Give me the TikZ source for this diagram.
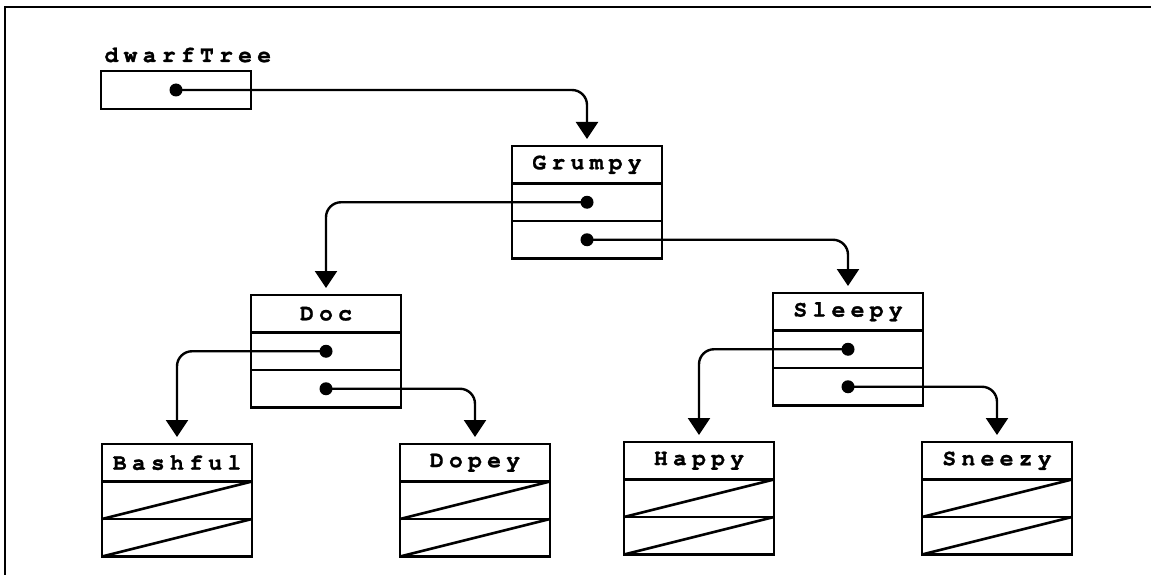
\documentclass[tikz,border=0pt]{standalone}
\usepackage{fontspec}
\newfontfamily\codefont{TeX Gyre Cursor}[LetterSpace=23, BoldFeatures={FakeBold=1.2}]
\usetikzlibrary{arrows.meta}
\tikzset{
  cell/.style={draw, line width=2.6pt, minimum width=150pt, minimum height=37.5pt, inner sep=0pt, outer sep=0pt},
  lab/.style={font=\codefont\bfseries\fontsize{23}{27}\selectfont},
  dot/.style={circle, fill, inner sep=0pt, minimum size=13pt},
  link/.style={line width=2.4pt, rounded corners=15pt, -{Triangle[width=22pt,length=17pt]}, shorten >=7pt},
  diag/.style={line width=2.6pt},
  frame/.style={line width=2.8pt},
}
\newcommand\listnode[4]{%
  \node[cell, lab] (#1) at (#2+75, #3+18.75) {#4};
  \node[cell] (#1-a) at (#2+75, #3+56.25) {};
  \node[cell] (#1-b) at (#2+75, #3+93.75) {};
}
\newcommand\leafnode[4]{%
  \listnode{#1}{#2}{#3}{#4}
  \draw[diag] (#1-a.south west) -- (#1-a.north east);
  \draw[diag] (#1-b.south west) -- (#1-b.north east);
}
\newcommand\innernode[4]{%
  \listnode{#1}{#2}{#3}{#4}
  \node[dot] (#1-pa) at (#1-a.center) {};
  \node[dot] (#1-pb) at (#1-b.center) {};
}
\begin{document}
\begin{tikzpicture}[x=1pt, y=-1pt]
  \useasboundingbox (0,0) rectangle (1151,575);
  \draw[frame] (5,575) -- (5,7) -- (1151,7);

  % root pointer
  \node[lab, anchor=base west] (dwl) at (101,62) {dwarfTree};
  \node[cell, minimum height=38pt] (dw) at (176,90) {};
  \node[dot] (dw-p) at (dw.center) {};

  % nodes
  \innernode{g}{512}{146}{Grumpy}
  \innernode{doc}{251}{295}{Doc}
  \innernode{sl}{773}{293}{Sleepy}
  \leafnode{ba}{102}{444}{Bashful}
  \leafnode{dp}{400}{444}{Dopey}
  \leafnode{ha}{624}{442}{Happy}
  \leafnode{sn}{922}{442}{Sneezy}

  % connectors
  \draw[link] (dw-p.center) -| (g.north);
  \draw[link] (g-pa.center) -| (doc.north);
  \draw[link] (g-pb.center) -| (sl.north);
  \draw[link] (doc-pa.center) -| (ba.north);
  \draw[link] (doc-pb.center) -| (dp.north);
  \draw[link] (sl-pa.center) -| (ha.north);
  \draw[link] (sl-pb.center) -| (sn.north);
\end{tikzpicture}
\end{document}
